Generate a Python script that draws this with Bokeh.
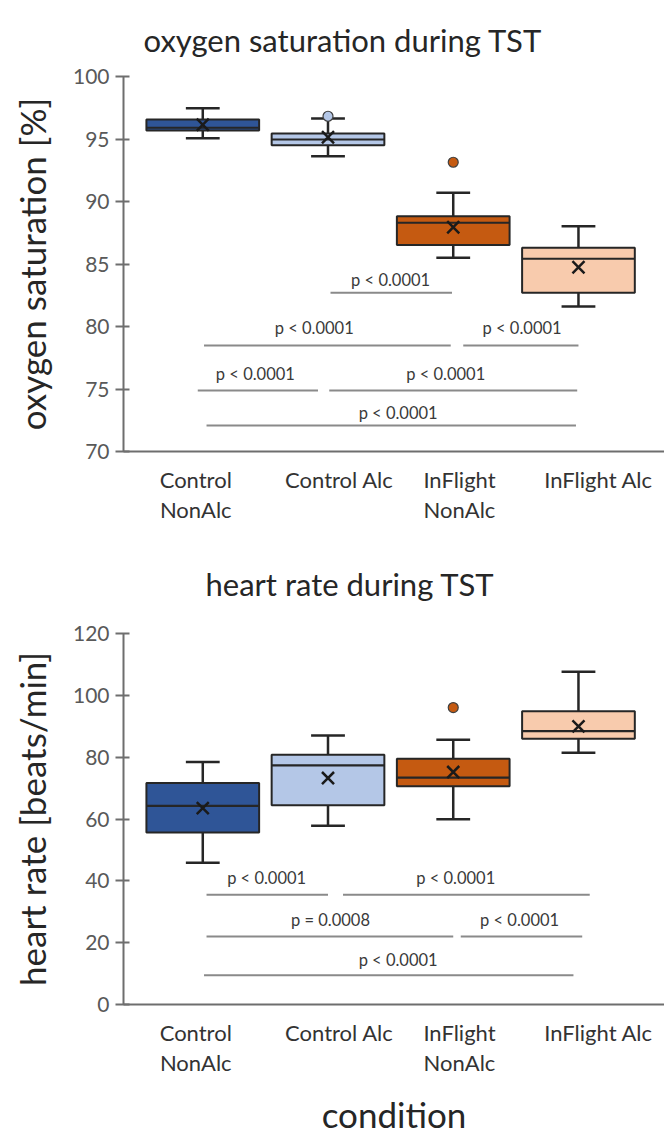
import numpy as np
from bokeh.plotting import figure
from bokeh.models import Range1d, FixedTicker
from bokeh.layouts import column
from bokeh.embed import file_html
from bokeh.resources import INLINE
from bokeh.core.properties import value

# ---------------- data ----------------
positions = [1, 2, 3, 4]
categories = ["Control\nNonAlc", "Control Alc", "InFlight\nNonAlc", "InFlight Alc"]
colors = ["#2F5597", "#B4C7E7", "#C55A11", "#F8CBAD"]

# oxygen saturation [%]
o2_whisker_low = [95.06, 93.62, 85.5, 81.6]
o2_q1 = [95.68, 94.5, 86.53, 82.7]
o2_median = [95.9, 94.96, 88.3, 85.42]
o2_q3 = [96.56, 95.44, 88.82, 86.3]
o2_whisker_high = [97.46, 96.64, 90.7, 88.02]
o2_mean = [96.14, 95.14, 87.94, 84.74]
o2_outlier_group = [2, 3]
o2_outlier_value = [96.82, 93.14]
o2_yticks = [70, 75, 80, 85, 90, 95, 100]
o2_sig_start = [2.02, 1.01, 3.08, 0.96, 2.01, 1.03]
o2_sig_end = [2.99, 2.98, 4.0, 1.92, 3.99, 3.98]
o2_sig_level = [82.7, 78.48, 78.48, 74.88, 74.88, 72.08]
o2_sig_text_x = [2.5, 1.89, 3.55, 1.42, 2.94, 2.56]
o2_sig_text_y = [83.76, 79.92, 79.92, 76.24, 76.24, 73.12]
o2_sig_label = ["p < 0.0001"] * 6

# heart rate [beats/min]
hr_whisker_low = [45.87, 57.79, 59.95, 81.45]
hr_q1 = [55.67, 64.46, 70.59, 85.96]
hr_median = [64.24, 77.36, 73.4, 88.41]
hr_q3 = [71.65, 80.8, 79.52, 94.86]
hr_whisker_high = [78.4, 87.03, 85.64, 107.65]
hr_mean = [63.5, 73.26, 75.2, 89.93]
hr_outlier_group = [3]
hr_outlier_value = [96.05]
hr_yticks = [0, 20, 40, 60, 80, 100, 120]
hr_sig_start = [1.03, 2.12, 1.03, 3.06, 1.01]
hr_sig_end = [2.0, 4.09, 3.0, 4.03, 3.96]
hr_sig_level = [35.5, 35.5, 22.0, 22.0, 9.44]
hr_sig_text_x = [1.51, 3.02, 2.02, 3.53, 2.56]
hr_sig_text_y = [40.9, 40.9, 27.2, 27.2, 14.28]
hr_sig_label = ["p < 0.0001", "p < 0.0001", "p = 0.0008", "p < 0.0001", "p < 0.0001"]

# ---------------- layout / style ----------------
FONT = "Lato"
BOX_W = 0.9
CAP_W = 0.27
DARK = "#262626"
# category label anchors (the reference's labels sit slightly off the box centres)
LABEL_POS = [0.944, 2.09, 3.05, 4.16]


def make_panel(title, ylabel, yr, yticks, wl, q1, med, q3, wh, mean,
               og, ov, s0, s1, sl, stx, sty, slab,
               height, border_top, border_bottom, title_offset, title_standoff, xlabel=None):
    p = figure(width=664, height=height,
               x_range=Range1d(0.367, 4.687), y_range=Range1d(*yr),
               output_backend="svg", toolbar_location=None,
               min_border_left=123, min_border_right=0,
               min_border_top=border_top, min_border_bottom=border_bottom)
    p.grid.visible = False
    p.outline_line_color = None
    p.background_fill_color = "white"
    p.border_fill_color = "white"

    x = np.array(positions, dtype=float)
    # whiskers
    p.segment(x, np.array(q3), x, np.array(wh), line_color=DARK, line_width=2.5)
    p.segment(x, np.array(q1), x, np.array(wl), line_color=DARK, line_width=2.5)
    p.segment(x - CAP_W / 2, np.array(wh), x + CAP_W / 2, np.array(wh), line_color=DARK, line_width=2.5)
    p.segment(x - CAP_W / 2, np.array(wl), x + CAP_W / 2, np.array(wl), line_color=DARK, line_width=2.5)
    # boxes
    p.vbar(x=x, width=BOX_W, bottom=q1, top=q3, fill_color=colors,
           line_color=DARK, line_width=2)
    # medians
    p.segment(x - BOX_W / 2, np.array(med), x + BOX_W / 2, np.array(med),
              line_color=DARK, line_width=2.2)
    # means
    p.scatter(x, mean, marker="x", size=17, line_color="#1a1a1a", line_width=2.5)
    # outliers
    ocol = [colors[g - 1] for g in og]
    p.scatter(og, ov, marker="circle", size=10, fill_color=ocol,
              line_color="#404040", line_width=1.2)
    # significance
    p.segment(s0, sl, s1, sl, line_color="#8a8a8a", line_width=2)
    p.text(x=stx, y=sty, text=slab, text_font=value(FONT), text_font_size="16.5px",
           text_align="center", text_baseline="middle", text_color="#3a3a3a")

    # y axis
    ya = p.yaxis[0]
    ya.ticker = FixedTicker(ticks=yticks)
    ya.axis_label = ylabel
    ya.axis_label_text_font = FONT
    ya.axis_label_text_font_size = "35px"
    ya.axis_label_text_font_style = "normal"
    ya.axis_label_text_color = DARK
    ya.axis_label_standoff = 17
    ya.major_label_text_font = FONT
    ya.major_label_text_font_size = "21px"
    ya.major_label_text_color = "#595959"
    ya.major_label_standoff = 6
    ya.major_tick_out = 8
    ya.major_tick_in = 6
    ya.minor_tick_out = 0
    ya.minor_tick_in = 0
    ya.axis_line_color = "#6e6e6e"
    ya.axis_line_width = 2
    ya.major_tick_line_color = "#6e6e6e"
    ya.major_tick_line_width = 2

    # x axis
    xa = p.xaxis[0]
    xa.ticker = FixedTicker(ticks=LABEL_POS)
    xa.major_label_overrides = {pos: lab for pos, lab in zip(LABEL_POS, categories)}
    xa.major_label_text_font = FONT
    xa.major_label_text_font_size = "22px"
    xa.major_label_text_color = "#333333"
    xa.major_label_text_line_height = 1.12
    xa.major_label_standoff = 14
    xa.major_tick_out = 0
    xa.major_tick_in = 0
    xa.minor_tick_out = 0
    xa.minor_tick_in = 0
    xa.axis_line_color = "#6e6e6e"
    xa.axis_line_width = 2
    if xlabel:
        xa.axis_label = xlabel
        xa.axis_label_text_font = FONT
        xa.axis_label_text_font_size = "35px"
        xa.axis_label_text_font_style = "normal"
        xa.axis_label_text_color = DARK
        xa.axis_label_standoff = 14

    p.title.text = title
    p.title.text_font = FONT
    p.title.text_font_size = "31px"
    p.title.text_font_style = "normal"
    p.title.text_color = DARK
    p.title.align = "left"
    p.title.offset = title_offset
    p.title.standoff = title_standoff
    return p


p1 = make_panel("oxygen saturation during TST", "oxygen saturation [%]", (70, 100), o2_yticks,
                o2_whisker_low, o2_q1, o2_median, o2_q3, o2_whisker_high, o2_mean,
                o2_outlier_group, o2_outlier_value,
                o2_sig_start, o2_sig_end, o2_sig_level, o2_sig_text_x, o2_sig_text_y, o2_sig_label,
                height=530, border_top=76, border_bottom=79, title_offset=20, title_standoff=36)

p2 = make_panel("heart rate during TST", "heart rate [beats/min]", (0, 120), hr_yticks,
                hr_whisker_low, hr_q1, hr_median, hr_q3, hr_whisker_high, hr_mean,
                hr_outlier_group, hr_outlier_value,
                hr_sig_start, hr_sig_end, hr_sig_level, hr_sig_text_x, hr_sig_text_y, hr_sig_label,
                height=607, border_top=103, border_bottom=132, title_offset=82, title_standoff=62,
                xlabel="condition")

layout = column(p1, p2)
open("out.html", "w").write(file_html(layout, INLINE))
